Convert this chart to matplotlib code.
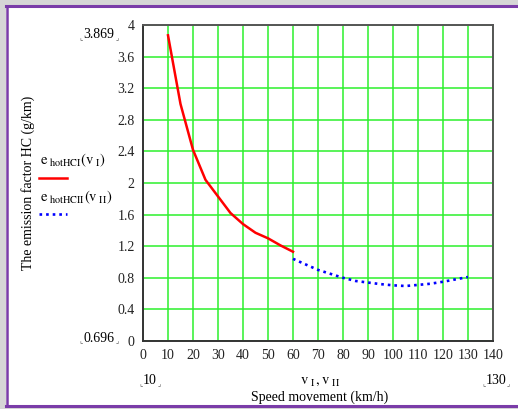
import matplotlib
matplotlib.use("Agg")
import matplotlib.pyplot as plt
from matplotlib.patches import Rectangle
from matplotlib.lines import Line2D

# -------------------------------------------------------
# DATA
# -------------------------------------------------------
v_I = [10, 15, 20, 25, 30, 35, 40, 45, 50, 55, 60]
e_hotHCI = [3.869, 3.00, 2.42, 2.04, 1.83, 1.62, 1.48, 1.37, 1.30, 1.21, 1.13]

v_II = [60, 65, 70, 75, 80, 85, 90, 95, 100, 105, 110, 115, 120, 125, 130]
e_hotHCII = [1.04, 0.97, 0.90, 0.85, 0.80, 0.76, 0.74, 0.72, 0.705, 0.696,
             0.71, 0.725, 0.75, 0.78, 0.81]

x_ticks = list(range(0, 141, 10))
y_ticks = [0, 0.4, 0.8, 1.2, 1.6, 2, 2.4, 2.8, 3.2, 3.6, 4]
y_tick_labels = ["0", "0.4", "0.8", "1.2", "1.6", "2", "2.4", "2.8", "3.2", "3.6", "4"]

# -------------------------------------------------------
# STYLE
# -------------------------------------------------------
plt.rcParams["font.family"] = ["Liberation Serif", "DejaVu Serif"]
plt.rcParams["mathtext.fontset"] = "stix"
W, H = 518, 409
GREEN = "#2cf02c"
SERIF = ["Liberation Serif", "DejaVu Sans"]


def px(x, y):
    # pixel coords (top-left origin) -> figure fraction
    return x / W, 1 - y / H


fig = plt.figure(figsize=(W / 100, H / 100), dpi=100, facecolor="#d6d6d6")

# window frame
fig.patches.append(Rectangle(px(6, 405), (W - 6) / W, 399 / H, transform=fig.transFigure,
                             facecolor="white", edgecolor="none", zorder=-5))
fig.add_artist(Line2D([6 / W, 1], [1 - 5.5 / H] * 2, color="#7a3ca8", lw=2.2))
fig.add_artist(Line2D([6 / W, 1], [1 - 405.5 / H] * 2, color="#7a3ca8", lw=2.2))
fig.add_artist(Line2D([6.5 / W] * 2, [1 - 5.5 / H, 1 - 405.5 / H], color="#7a3ca8", lw=1.8))

ax = fig.add_axes([143 / W, (H - 341) / H, 350 / W, 316 / H], zorder=2)
ax.plot(v_I, e_hotHCI, color="red", lw=1.8, zorder=3)
ax.plot(v_II, e_hotHCII, color="blue", lw=1.9, linestyle=(0, (1, 1.5)),
        dash_capstyle="butt", zorder=3)

ax.set_xlim(0, 140)
ax.set_ylim(0, 4)
ax.set_xticks(x_ticks)
ax.set_xticklabels([str(t) for t in x_ticks])
ax.set_yticks(y_ticks)
ax.set_yticklabels(y_tick_labels)
ax.tick_params(length=0, labelsize=10, colors="#222222")
ax.tick_params(axis="x", pad=6)
ax.tick_params(axis="y", pad=6)
ax.grid(True, color=GREEN, lw=1.1)
ax.set_axisbelow(True)
for side in ["left", "bottom"]:
    ax.spines[side].set_color("#333333")
    ax.spines[side].set_linewidth(1.4)
for side in ["top", "right"]:
    ax.spines[side].set_color("#555555")
    ax.spines[side].set_linewidth(1.4)

# y label
fig.text(*px(28, 183), "The emission factor HC (g/km)", rotation=90,
         ha="center", va="center", fontsize=10)

# range markers
def marked(x, y, s):
    fig.text(*px(x, y), s, ha="center", va="center", fontsize=10)
    fig.text(*px(x - len(s) * 3 - 3, y + 4), "\u231e", ha="center", va="center",
             fontsize=5, color="#555555", family=SERIF)
    fig.text(*px(x + len(s) * 3 + 3, y + 4), "\u231f", ha="center", va="center",
             fontsize=5, color="#555555", family=SERIF)

marked(99, 35, "3.869")
marked(99, 338, "0.696")
marked(150, 381, "10")
marked(496, 381, "130")

# x label
fig.text(*px(320, 381), r"$\mathrm{v}_{\ \mathrm{I}}\,,\mathrm{v}_{\ \mathrm{II}}$",
         ha="center", va="center", fontsize=10.5)
fig.text(*px(320, 397), "Speed movement (km/h)", ha="center", va="center", fontsize=10)

# legend
fig.text(*px(40, 160), r"$\mathrm{e}_{\ \mathrm{hotHCI}}\left(\mathrm{v}_{\ \mathrm{I}}\right)$",
         ha="left", va="center", fontsize=10.5)
fig.add_artist(Line2D([39 / W, 67 / W], [1 - 178 / H] * 2, color="red", lw=1.8))
fig.text(*px(40, 197), r"$\mathrm{e}_{\ \mathrm{hotHCII}}\left(\mathrm{v}_{\ \mathrm{II}}\right)$",
         ha="left", va="center", fontsize=10.5)
fig.add_artist(Line2D([39 / W, 67 / W], [1 - 214 / H] * 2, color="blue", lw=1.9,
                      linestyle=(0, (1, 1.5)), dash_capstyle="butt"))

fig.savefig("out.png", dpi=100, facecolor=fig.get_facecolor())
